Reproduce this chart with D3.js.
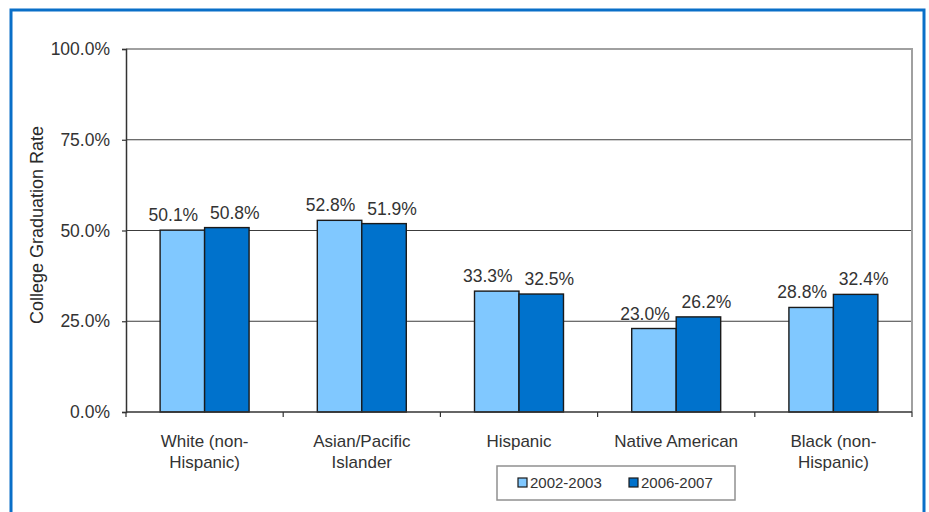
<!DOCTYPE html>
<html>
<head>
<meta charset="utf-8">
<script src="https://cdn.jsdelivr.net/npm/d3@7"></script>
<style>
  html, body { margin: 0; padding: 0; background: #fff; }
  svg { display: block; font-family: "Liberation Sans", Arial, sans-serif; }
</style>
</head>
<body>
<div id="chart"></div>
<script>
// Chart data
var categories = [
  ["White (non-", "Hispanic)"],
  ["Asian/Pacific", "Islander"],
  ["Hispanic"],
  ["Native American"],
  ["Black (non-", "Hispanic)"]
];
var seriesNames = ["2002-2003", "2006-2007"];
var values2002 = [50.1, 52.8, 33.3, 23.0, 28.8];
var values2006 = [50.8, 51.9, 32.5, 26.2, 32.4];
var yTicks = [0, 25, 50, 75, 100];
var yTitle = "College Graduation Rate";

(function () {
  var width = 929,
      height = 512,

      // plot area edges
      plot = { left: 126, right: 912, top: 49, bottom: 412 },

      colors = ["#80c8ff", "#0072cc"],
      seriesValues = [values2002, values2006],
      labelShift = [-9, 8];

  var svg = d3.select("#chart").append("svg")
      .attr("width", width)
      .attr("height", height);

  // outer blue frame
  svg.append("rect")
      .attr("x", 11).attr("y", 10)
      .attr("width", 913).attr("height", 520)
      .attr("fill", "#fff")
      .attr("stroke", "#0a6fc8")
      .attr("stroke-width", 3);

  var keys = d3.range(categories.length);

  var x = d3.scaleBand()
      .domain(keys)
      .range([plot.left, plot.right])
      .paddingInner(0.434)
      .paddingOuter(0.217);

  var xSeries = d3.scaleBand()
      .domain(d3.range(seriesNames.length))
      .range([0, x.bandwidth()]);

  var y = d3.scaleLinear()
      .domain([0, 100])
      .range([plot.bottom, plot.top]);

  // ------------------------------------------------------------
  // gridlines and plot border
  // ------------------------------------------------------------
  svg.append("g")
      .selectAll("line")
      .data(yTicks.filter(function (d) { return d > 0 && d < 100; }))
      .enter().append("line")
        .attr("x1", plot.left).attr("x2", plot.right)
        .attr("y1", function (d) { return y(d); })
        .attr("y2", function (d) { return y(d); })
        .attr("stroke", "#3c3c3c")
        .attr("stroke-width", 1.2);

  svg.append("path")
      .attr("d", "M" + plot.left + "," + y(100) + "H" + plot.right + "V" + plot.bottom)
      .attr("fill", "none")
      .attr("stroke", "#a0a0a0")
      .attr("stroke-width", 2);

  // ------------------------------------------------------------
  // bars
  // ------------------------------------------------------------
  var groups = svg.append("g")
      .selectAll("g")
      .data(keys)
      .enter().append("g")
        .attr("transform", function (i) { return "translate(" + x(i) + ",0)"; });

  groups.selectAll("rect")
      .data(function (i) {
        return seriesValues.map(function (s, j) { return { s: j, v: s[i] }; });
      })
      .enter().append("rect")
        .attr("x", function (d) { return xSeries(d.s); })
        .attr("y", function (d) { return y(d.v); })
        .attr("width", xSeries.bandwidth())
        .attr("height", function (d) { return y(0) - y(d.v); })
        .attr("fill", function (d) { return colors[d.s]; })
        .attr("stroke", "#1a1a1a")
        .attr("stroke-width", 1.4);

  groups.selectAll("text")
      .data(function (i) {
        return seriesValues.map(function (s, j) { return { s: j, v: s[i] }; });
      })
      .enter().append("text")
        .attr("x", function (d) { return xSeries(d.s) + xSeries.bandwidth() / 2 + labelShift[d.s]; })
        .attr("y", function (d) { return y(d.v) - 9; })
        .attr("text-anchor", "middle")
        .attr("font-size", 17.5)
        .attr("fill", "#333")
        .text(function (d) { return d.v.toFixed(1) + "%"; });

  // ------------------------------------------------------------
  // axes
  // ------------------------------------------------------------
  var yAxis = svg.append("g")
      .attr("transform", "translate(" + plot.left + ",0)")
      .call(d3.axisLeft(y)
        .tickValues(yTicks)
        .tickSize(4)
        .tickPadding(12)
        .tickFormat(function (d) { return d.toFixed(1) + "%"; }));

  yAxis.select(".domain").attr("stroke", "#333").attr("stroke-width", 1.5);
  yAxis.selectAll(".tick line").attr("stroke", "#333").attr("stroke-width", 1.2);
  yAxis.selectAll(".tick text")
      .attr("font-family", "Liberation Sans, Arial, sans-serif")
      .attr("font-size", 17.5)
      .attr("fill", "#333");

  // x axis: ticks on category boundaries
  var step = x.step();
  var bounds = keys.map(function (i) { return x(i) + x.bandwidth() / 2 - step / 2; });
  bounds.push(x(keys.length - 1) + x.bandwidth() / 2 + step / 2);

  var xAxis = svg.append("g");
  xAxis.append("line")
      .attr("x1", plot.left).attr("x2", plot.right)
      .attr("y1", plot.bottom).attr("y2", plot.bottom)
      .attr("stroke", "#333").attr("stroke-width", 1.5);
  xAxis.selectAll("line.tick")
      .data(bounds)
      .enter().append("line")
        .attr("class", "tick")
        .attr("x1", function (d) { return d; }).attr("x2", function (d) { return d; })
        .attr("y1", plot.bottom).attr("y2", plot.bottom + 5)
        .attr("stroke", "#333").attr("stroke-width", 1.2);

  var catLabels = xAxis.selectAll("text.cat")
      .data(keys)
      .enter().append("text")
        .attr("class", "cat")
        .attr("x", function (i) { return x(i) + x.bandwidth() / 2; })
        .attr("y", plot.bottom + 35)
        .attr("text-anchor", "middle")
        .attr("font-size", 17)
        .attr("fill", "#333");

  catLabels.selectAll("tspan")
      .data(function (i) { return categories[i]; })
      .enter().append("tspan")
        .attr("x", function () { return d3.select(this.parentNode).attr("x"); })
        .attr("dy", function (d, k) { return k === 0 ? 0 : 21; })
        .text(function (d) { return d; });

  // y axis title
  svg.append("text")
      .attr("transform", "translate(43,225) rotate(-90)")
      .attr("text-anchor", "middle")
      .attr("font-size", 18)
      .attr("fill", "#2a2a2a")
      .text(yTitle);

  // ------------------------------------------------------------
  // legend
  // ------------------------------------------------------------
  var legend = svg.append("g").attr("transform", "translate(497,466)");
  legend.append("rect")
      .attr("width", 238).attr("height", 34)
      .attr("fill", "#fff")
      .attr("stroke", "#909090")
      .attr("stroke-width", 1.5);

  var items = legend.selectAll("g.item")
      .data(seriesNames)
      .enter().append("g")
        .attr("class", "item")
        .attr("transform", function (d, i) { return "translate(" + (21 + i * 111) + ",12)"; });

  items.append("rect")
      .attr("width", 9).attr("height", 9)
      .attr("fill", function (d, i) { return colors[i]; })
      .attr("stroke", "#1a1a1a")
      .attr("stroke-width", 1.2);

  items.append("text")
      .attr("x", 12).attr("y", 10)
      .attr("font-size", 15)
      .attr("fill", "#333")
      .text(function (d) { return d; });
})();
</script>
</body>
</html>
